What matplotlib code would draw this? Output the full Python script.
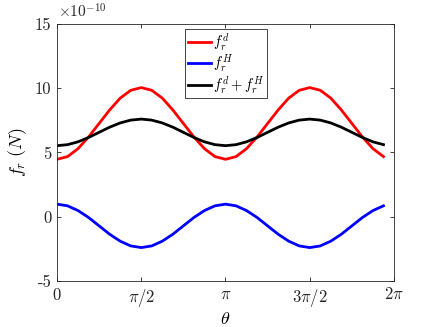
import numpy as np
import matplotlib
matplotlib.use("Agg")
import matplotlib.pyplot as plt

plt.rcParams['mathtext.fontset'] = 'cm'
plt.rcParams['font.family'] = 'serif'
plt.rcParams['font.serif'] = ['cmr10', 'DejaVu Serif']
plt.rcParams['axes.formatter.use_mathtext'] = True

# theta samples: k * 2*pi/32, k = 0..31
n_samples = 32
theta = np.arange(n_samples) * 2 * np.pi / n_samples

# values in units of 1e-10 N
f_d_quarter = [4.47, 4.68, 5.30, 6.21, 7.26, 8.31, 9.23, 9.84, 10.05]
f_H_quarter = [0.98, 0.85, 0.48, -0.06, -0.71, -1.36, -1.90, -2.27, -2.40]
f_sum_quarter = [5.53, 5.61, 5.83, 6.17, 6.57, 6.97, 7.30, 7.52, 7.60]

def full(q):
    half = q + q[-2:0:-1]  # 0..pi (16 values)
    return np.array(half + half)

f_d = full(f_d_quarter)
f_H = full(f_H_quarter)
f_sum = full(f_sum_quarter)
scale = 1e-10

x_ticks = [0, np.pi / 2, np.pi, 3 * np.pi / 2, 2 * np.pi]
x_ticklabels = [r'$0$', r'$\pi/2$', r'$\pi$', r'$3\pi/2$', r'$2\pi$']
y_ticks = [-5, 0, 5, 10, 15]
y_ticklabels = ['-5', '0', '5', '10', '15']

fig = plt.figure(figsize=(4.36, 3.27), dpi=100)
ax = fig.add_axes([0.1307, 0.1407, 0.7730, 0.7859])

lw = 2.0
ax.plot(theta, f_d * scale, color='#ff0000', lw=lw, label=r'$f_r^d$')
ax.plot(theta, f_H * scale, color='#0000ff', lw=lw, label=r'$f_r^H$')
ax.plot(theta, f_sum * scale, color='#000000', lw=lw, label=r'$f_r^d+f_r^H$')

ax.set_xlim(0, 2 * np.pi)
ax.set_ylim(-5 * scale, 15 * scale)
ax.set_xticks(x_ticks)
ax.set_xticklabels(x_ticklabels)
ax.set_yticks([v * scale for v in y_ticks])
ax.set_yticklabels(y_ticklabels)

edge = '#262626'
for s in ax.spines.values():
    s.set_color(edge)
    s.set_linewidth(0.6)
ax.tick_params(direction='in', length=3, width=0.6, color=edge,
               top=True, right=True, labelsize=12, labelcolor='#262626', pad=4)

ax.set_xlabel(r'$\theta$', fontsize=13, labelpad=2)
ax.set_ylabel(r'$f_r\ (N)$', fontsize=13, labelpad=4)

fig.text(0.133, 0.963, r'$\times10^{-10}$', fontsize=11, color='#262626',
         ha='left', va='center')

leg = ax.legend(loc='upper right', bbox_to_anchor=(0.623, 0.9805), fontsize=10.5,
                frameon=True, fancybox=False, edgecolor=edge, framealpha=1,
                handlelength=1.6, handletextpad=0.15, borderpad=0.15,
                labelspacing=0.0, borderaxespad=0)
leg.get_frame().set_linewidth(0.6)

fig.savefig('out.png', dpi=100)
